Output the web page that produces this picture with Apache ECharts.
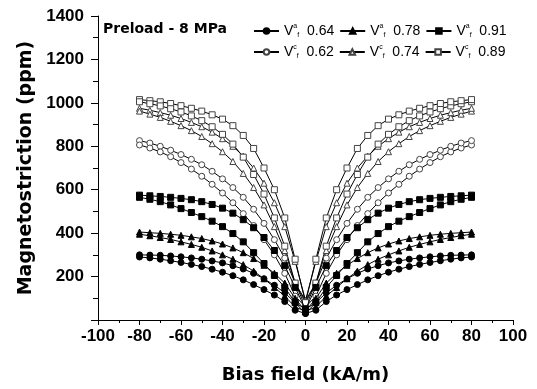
<!DOCTYPE html>
<html>
<head>
<meta charset="utf-8">
<script src="https://cdn.jsdelivr.net/npm/echarts@6/dist/echarts.min.js"></script>
<style>
  html, body { margin: 0; padding: 0; background: #fff; }
  #chart { width: 537px; height: 389px; }
</style>
</head>
<body>
<div id="chart"></div>
<script>
// |H| sample points (kA/m) shared by every branch below
const fieldAbs = [0, 5, 10, 15, 20, 25, 30, 35, 40, 45, 50, 55, 60, 65, 70, 75, 80];

// outer = leading branch, inner = lagging branch of each butterfly loop (ppm)
const va064Outer = [30, 80, 125, 160, 190, 215, 235, 250, 263, 272, 280, 286, 291, 295, 298, 299, 300];
const va064Inner = [10, 45, 85, 115, 140, 163, 185, 204, 220, 234, 246, 256, 265, 273, 280, 286, 290];
const va078Outer = [40, 100, 170, 215, 252, 283, 310, 332, 350, 364, 375, 383, 390, 395, 399, 402, 405];
const va078Inner = [15, 60, 110, 150, 190, 225, 255, 280, 300, 318, 335, 348, 360, 371, 380, 388, 395];
const va091Outer = [50, 150, 250, 320, 380, 425, 462, 492, 515, 532, 545, 554, 560, 565, 569, 572, 575];
const va091Inner = [20, 80, 150, 205, 260, 310, 360, 398, 430, 455, 476, 495, 513, 530, 545, 556, 565];
const vc062Outer = [60, 170, 285, 370, 445, 510, 565, 610, 650, 685, 715, 740, 762, 782, 800, 815, 826];
const vc062Inner = [20, 110, 215, 300, 370, 435, 490, 540, 585, 625, 662, 695, 725, 752, 774, 792, 806];
const vc074Outer = [90, 270, 430, 540, 630, 700, 755, 800, 835, 865, 890, 910, 928, 943, 955, 966, 975];
const vc074Inner = [30, 170, 320, 430, 530, 610, 675, 730, 775, 812, 845, 872, 895, 915, 933, 948, 962];
const vc089Outer = [80, 280, 470, 600, 700, 790, 850, 895, 925, 945, 962, 975, 987, 997, 1005, 1010, 1015];
const vc089Inner = [30, 170, 340, 470, 580, 670, 750, 810, 855, 890, 918, 940, 958, 973, 986, 996, 1005];

const xTicks = [-100, -80, -60, -40, -20, 0, 20, 40, 60, 80, 100];
const yTicks = [0, 200, 400, 600, 800, 1000, 1200, 1400];

// sweep -80 -> +80 -> -80
function buildLoop(outer, inner) {
  const pts = [];
  for (let i = fieldAbs.length - 1; i >= 0; i--) pts.push([-fieldAbs[i], outer[i]]);
  for (let i = 1; i < fieldAbs.length; i++) pts.push([fieldAbs[i], inner[i]]);
  for (let i = fieldAbs.length - 1; i >= 0; i--) pts.push([fieldAbs[i], outer[i]]);
  for (let i = 1; i < fieldAbs.length; i++) pts.push([-fieldAbs[i], inner[i]]);
  return pts;
}

const seriesDefs = [
  { name: "a 0.64", symbol: "circle", filled: true, outer: va064Outer, inner: va064Inner },
  { name: "a 0.78", symbol: "triangle", filled: true, outer: va078Outer, inner: va078Inner },
  { name: "a 0.91", symbol: "rect", filled: true, outer: va091Outer, inner: va091Inner },
  { name: "c 0.62", symbol: "circle", filled: false, outer: vc062Outer, inner: vc062Inner },
  { name: "c 0.74", symbol: "triangle", filled: false, outer: vc074Outer, inner: vc074Inner },
  { name: "c 0.89", symbol: "rect", filled: false, outer: vc089Outer, inner: vc089Inner },
];

const FONT = "Liberation Sans, Arial, sans-serif";
const WIDE = "DejaVu Sans, sans-serif";
const chart = echarts.init(document.getElementById("chart"), null, { renderer: "canvas" });

const legendText = {
  fontFamily: FONT,
  fontSize: 14,
  color: "#000",
  rich: {
    v: { fontFamily: FONT, fontSize: 14, color: "#000" },
    sup: { fontFamily: FONT, fontSize: 7, color: "#000", padding: [0, 0, 9, 0] },
    sub: { fontFamily: FONT, fontSize: 7, color: "#000", padding: [9, 0, 0, 0] },
  },
};
const legendFormatter = (name) => {
  const [sup, val] = name.split(" ");
  return "{v|V}{sup|" + sup + "}{sub|f}{v|  " + val + "}";
};

chart.setOption({
  animation: false,
  title: {
    text: "Preload - 8 MPa",
    left: 98,
    top: 17,
    textStyle: { fontFamily: WIDE, fontSize: 14, fontWeight: "bold", color: "#000" },
  },
  legend: [
    {
      data: seriesDefs.slice(0, 3).map((s) => s.name),
      left: 248, top: 18, itemWidth: 25, itemHeight: 7, itemGap: 5,
      formatter: legendFormatter, textStyle: legendText,
    },
    {
      data: seriesDefs.slice(3).map((s) => s.name),
      left: 248, top: 39, itemWidth: 25, itemHeight: 7, itemGap: 5,
      formatter: legendFormatter, textStyle: legendText,
    },
  ],
  grid: { left: 98, right: 24, top: 16, bottom: 66 },
  xAxis: {
    type: "value",
    min: xTicks[0],
    max: xTicks[xTicks.length - 1],
    interval: 20,
    name: "Bias field (kA/m)",
    nameLocation: "middle",
    nameGap: 46,
    nameTextStyle: { fontFamily: WIDE, fontSize: 18, fontWeight: "bold", color: "#000" },
    axisLine: { onZero: false, lineStyle: { color: "#000", width: 1 } },
    axisTick: { length: 5, lineStyle: { color: "#000" } },
    minorTick: { show: true, splitNumber: 2, length: 3, lineStyle: { color: "#000" } },
    splitLine: { show: false },
    axisLabel: { fontFamily: FONT, fontSize: 17, fontWeight: "bold", color: "#000", margin: 8 },
  },
  yAxis: {
    type: "value",
    min: yTicks[0],
    max: yTicks[yTicks.length - 1],
    interval: 200,
    name: "Magnetostriction (ppm)",
    nameLocation: "middle",
    nameGap: 62,
    nameTextStyle: { fontFamily: WIDE, fontSize: 19, fontWeight: "bold", color: "#000" },
    axisLine: { show: true, onZero: false, lineStyle: { color: "#000", width: 1 } },
    axisTick: { length: 7, lineStyle: { color: "#000" } },
    minorTick: { show: true, splitNumber: 2, length: 5, lineStyle: { color: "#000" } },
    splitLine: { show: false },
    axisLabel: {
      fontFamily: FONT, fontSize: 17, fontWeight: "bold", color: "#000", margin: 14,
      formatter: (v) => (v === 0 ? "" : String(v)),
    },
  },
  series: seriesDefs.map((s) => ({
    name: s.name,
    type: "line",
    data: buildLoop(s.outer, s.inner),
    symbol: s.symbol,
    symbolSize: 6,
    showAllSymbol: true,
    lineStyle: { color: "#000", width: 1 },
    itemStyle: {
      color: s.filled ? "#000" : "#fff",
      borderColor: s.filled ? "#000" : "#444",
      borderWidth: 1,
    },
    z: s.filled ? 3 : 2,
  })),
});
</script>
</body>
</html>
